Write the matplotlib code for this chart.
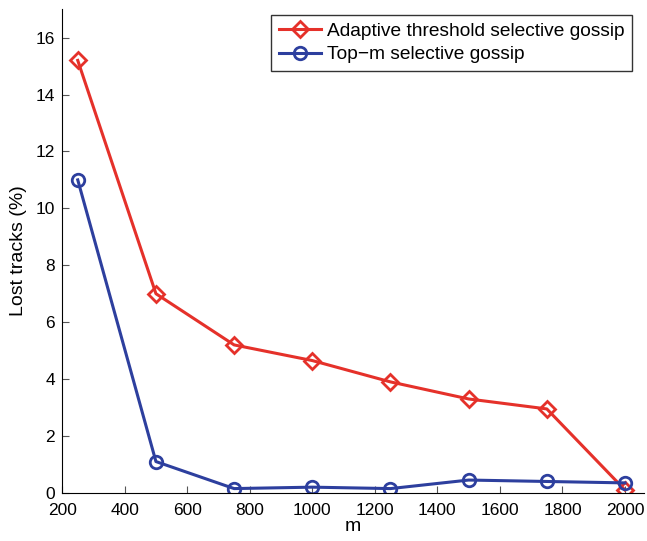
import numpy as np
import matplotlib.pyplot as plt

plt.rcParams['font.family'] = ['Liberation Sans', 'DejaVu Sans']

# data
m_values = [250, 500, 750, 1000, 1250, 1500, 1750, 2000]
adaptive = [15.2, 7.0, 5.2, 4.65, 3.9, 3.3, 2.95, 0.1]
top_m = [11.0, 1.1, 0.15, 0.2, 0.15, 0.45, 0.4, 0.35]

red = '#e5312a'
blue = '#2d3f9e'

fig = plt.figure(figsize=(6.47, 5.41), dpi=100)
ax = fig.add_axes([0.096, 0.089, 0.899, 0.894])

ax.plot(m_values, adaptive, color=red, lw=2.2, marker='D', ms=8,
        mfc='none', mec=red, mew=2, label='Adaptive threshold selective gossip')
ax.plot(m_values, top_m, color=blue, lw=2.2, marker='o', ms=9,
        mfc='none', mec=blue, mew=2, label='Top\u2212m selective gossip')

ax.set_xlim(200, 2060)
ax.set_ylim(0, 17)
ax.set_xticks(np.arange(200, 2001, 200))
ax.set_yticks(np.arange(0, 17, 2))
ax.tick_params(direction='in', length=5, labelsize=12.5, color='#555555')
ax.tick_params(axis='x', pad=7)
ax.tick_params(axis='y', pad=5)
ax.spines['top'].set_visible(False)
ax.spines['right'].set_visible(False)
ax.set_xlabel('m', fontsize=14, labelpad=0)
ax.set_ylabel('Lost tracks (%)', fontsize=14, labelpad=6)

leg = ax.legend(loc='upper right', bbox_to_anchor=(632 / 647, 1 - 15 / 541),
                bbox_transform=fig.transFigure, fontsize=13.8,
                frameon=True, fancybox=False, edgecolor='black',
                handlelength=2.2, handletextpad=0.3, borderpad=0.4,
                labelspacing=0.3, borderaxespad=0)
leg.get_frame().set_linewidth(1)

fig.savefig('out.png', dpi=100)
